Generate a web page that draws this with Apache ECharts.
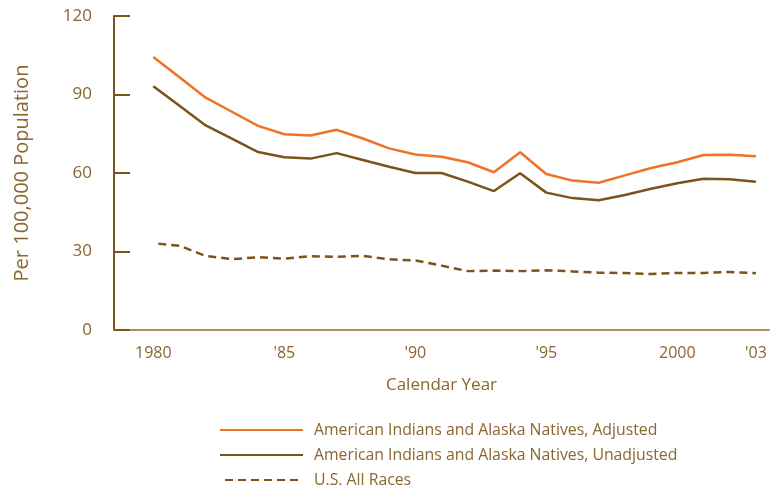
<!DOCTYPE html>
<html>
<head>
<meta charset="utf-8">
<script src="https://cdn.jsdelivr.net/npm/echarts@6/dist/echarts.min.js"></script>
<style>
  html, body { margin: 0; padding: 0; background: #fff; }
  #chart { width: 770px; height: 487px; }
</style>
</head>
<body>
<div id="chart"></div>
<script>
// 1979 is an empty slot so the first year sits one band in from the axis
const years = ["1979", "1980", "1981", "1982", "1983", "1984", "1985", "1986", "1987", "1988", "1989",
  "1990", "1991", "1992", "1993", "1994", "1995", "1996", "1997", "1998", "1999",
  "2000", "2001", "2002", "2003"];
const yearLabels = { "1980": "1980", "1985": "'85", "1990": "'90", "1995": "'95", "2000": "2000", "2003": "'03" };

const adjusted = [null, 104.3, 96.6, 88.8, 83.4, 78.0, 74.8, 74.3, 76.5, 73.2, 69.4,
  67.1, 66.2, 64.1, 60.3, 67.9, 59.6, 57.1, 56.3, 59.1, 61.9,
  64.1, 66.9, 67.0, 66.4];
const unadjusted = [null, 93.2, 85.7, 78.2, 73.1, 68.0, 66.0, 65.5, 67.6, 65.0, 62.4,
  60.0, 60.0, 56.7, 53.1, 59.9, 52.5, 50.4, 49.6, 51.6, 54.0,
  56.1, 57.8, 57.6, 56.7];
const allRaces = [null, 33.2, 32.2, 28.3, 27.1, 27.8, 27.3, 28.2, 28.0, 28.3, 27.0,
  26.6, 24.6, 22.5, 22.7, 22.5, 22.8, 22.4, 21.9, 21.8, 21.4,
  21.8, 21.8, 22.2, 21.7];

const seriesNames = [
  "American Indians and Alaska Natives, Adjusted",
  "American Indians and Alaska Natives, Unadjusted",
  "U.S. All Races"
];

const orange = "#ee7326";
const brown = "#7a5418";
const textColor = "#8a6630";
const tan = "#ad8f5e";
const font = "Open Sans";

const chart = echarts.init(document.getElementById("chart"));

// one legend per row so they stack like the original
const legends = seriesNames.map((name, i) => ({
  orient: "vertical",
  left: 219,
  top: 422 + i * 25,
  padding: 0,
  itemWidth: 83,
  itemHeight: 16,
  itemStyle: { opacity: 0 },
  textStyle: { color: textColor, fontSize: 15.8, fontFamily: font, padding: [0, 0, 0, 6] },
  data: [name]
}));

chart.setOption({
  animation: false,
  textStyle: { fontFamily: font },
  grid: { left: 114, right: 1, top: 16, height: 314 },
  legend: legends,
  xAxis: {
    type: "category",
    data: years,
    boundaryGap: true,
    name: "Calendar Year",
    nameLocation: "middle",
    nameGap: 47,
    nameTextStyle: { color: textColor, fontSize: 17, fontFamily: font },
    axisLine: { lineStyle: { color: tan, width: 2 } },
    axisTick: {
      inside: true,
      length: 16,
      alignWithLabel: true,
      interval: (i) => i > 0,
      lineStyle: { color: tan, width: 2 }
    },
    axisLabel: {
      interval: (i, v) => yearLabels[v] !== undefined,
      formatter: (v) => yearLabels[v] || "",
      color: textColor,
      fontSize: 16,
      margin: 15
    },
    splitLine: { show: false }
  },
  yAxis: {
    type: "value",
    min: 0,
    max: 120,
    interval: 30,
    name: "Per 100,000 Population",
    nameLocation: "middle",
    nameGap: 82,
    nameTextStyle: { color: textColor, fontSize: 20, fontFamily: font },
    axisLine: { show: true, lineStyle: { color: brown, width: 2 } },
    axisTick: { show: true, inside: true, length: 16, lineStyle: { color: brown, width: 2 } },
    axisLabel: { color: textColor, fontSize: 17, margin: 22 },
    splitLine: { show: false }
  },
  series: [
    {
      name: seriesNames[0],
      type: "line",
      data: adjusted,
      symbol: "none",
      color: orange,
      lineStyle: { color: orange, width: 2.5 }
    },
    {
      name: seriesNames[1],
      type: "line",
      data: unadjusted,
      symbol: "none",
      color: brown,
      lineStyle: { color: brown, width: 2.5 }
    },
    {
      name: seriesNames[2],
      type: "line",
      data: allRaces,
      symbol: "none",
      color: brown,
      lineStyle: { color: brown, width: 2.5, type: [8, 5], dashOffset: 8 }
    }
  ]
});
</script>
</body>
</html>
